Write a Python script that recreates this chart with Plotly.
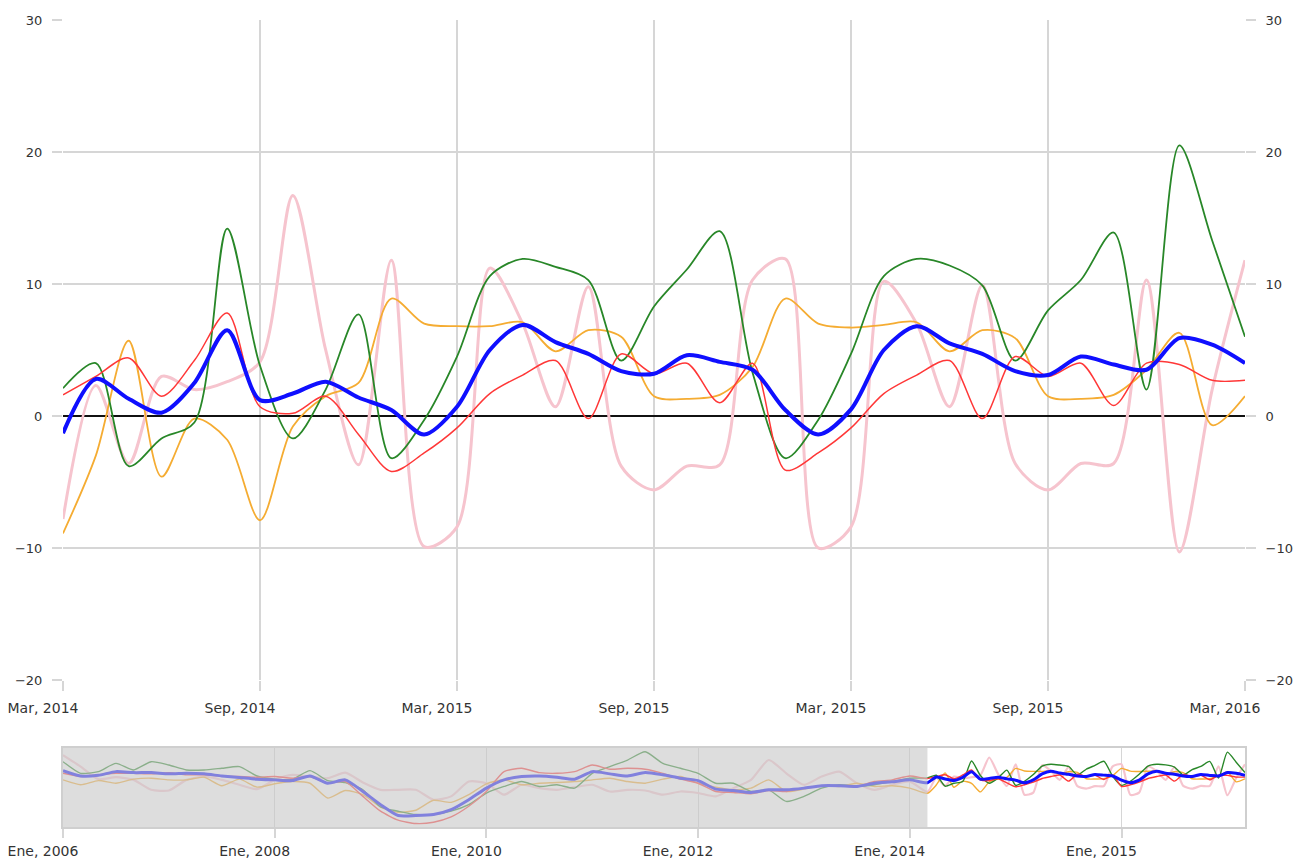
import plotly.graph_objects as go

# ---------------- main chart data (monthly points) ----------------
month_idx = list(range(37))
main_tick_vals = [0, 6, 12, 18, 24, 30, 36]
main_tick_text = ["Mar, 2014", "Sep, 2014", "Mar, 2015", "Sep, 2015",
                  "Mar, 2015", "Sep, 2015", "Mar, 2016"]

blue = [-1.3, 2.8, 1.3, 0.25, 2.5, 6.5, 1.2, 1.7, 2.6, 1.4,
        0.45, -1.4, 0.7, 5.0, 6.9, 5.6, 4.7, 3.4, 3.2, 4.6,
        4.1, 3.5, 0.45, -1.4, 0.5, 5.0, 6.8, 5.5, 4.7, 3.4,
        3.1, 4.5, 3.9, 3.5, 5.9, 5.4, 4.0]
red = [1.6, 3.0, 4.4, 1.5, 4.2, 7.8, 0.7, 0.2, 1.5, -1.4,
       -4.2, -2.8, -0.9, 1.7, 3.1, 4.2, -0.2, 4.7, 3.2, 4.0,
       1.0, 4.0, -4.1, -2.8, -0.9, 1.7, 3.1, 4.2, -0.2, 4.5,
       3.0, 4.0, 0.8, 4.0, 3.9, 2.7, 2.7]
green = [2.1, 4.0, -3.8, -1.7, -0.5, 14.2, 3.8, -1.7, 2.0, 7.7,
         -3.2, -0.3, 4.5, 10.6, 11.9, 11.3, 10.3, 4.2, 8.3, 11.1,
         14.0, 3.3, -3.2, -0.3, 4.7, 10.6, 11.9, 11.4, 9.9, 4.2,
         8.0, 10.3, 13.9, 2.0, 20.5, 13.3, 6.0]
orange = [-8.9, -3.0, 5.7, -4.6, -0.2, -1.8, -7.9, -0.8, 1.5, 2.5,
          8.9, 7.0, 6.8, 6.8, 7.1, 4.9, 6.5, 6.0, 1.5, 1.3,
          1.6, 3.7, 8.9, 7.0, 6.7, 6.9, 7.1, 4.9, 6.5, 5.9,
          1.5, 1.3, 1.6, 3.5, 6.3, -0.7, 1.5]
pink = [-7.8, 2.3, -3.6, 3.0, 2.0, 2.6, 4.1, 16.7, 5.0, -3.7,
        11.8, -9.9, -8.4, 11.2, 7.0, 0.7, 9.8, -3.8, -5.6, -3.8,
        -3.7, 10.3, 11.9, -10.0, -8.4, 10.2, 7.0, 0.7, 9.9, -3.6,
        -5.6, -3.6, -3.6, 10.3, -10.3, 2.0, 11.8]

# ---------------- navigator history (every 2 periods, 2006 -> 2014) ----------------
hist_idx = list(range(0, 97, 2))
blue_hist = [7.3, 3.5, 4.0, 6.6, 5.9, 5.9, 5.0, 5.4, 5.0, 3.5,
             2.4, 1.2, 0.7, 0.2, 3.5, -1.7, 0.7, -7.6, -17.0, -24.8,
             -24.8, -24.1, -20.6, -13.5, -5.2, 0.7, 3.1, 3.5, 2.6, 1.2,
             6.6, 5.0, 3.5, 5.9, 4.3, 1.9, 0.2, -5.9, -6.9, -8.3,
             -6.4, -6.4, -5.2, -3.5, -3.5, -4.0, -1.7, -0.7, 0.7]
red_hist = [5.4, 3.1, 4.3, 5.4, 5.4, 5.0, 5.9, 4.3, 4.3, 3.5,
            3.1, 2.6, 3.1, 1.9, 3.1, -1.7, -0.5, -11.1, -21.7, -28.1,
            -30.5, -29.6, -25.8, -18.2, -7.6, 6.6, 9.0, 5.9, 5.4, 6.6,
            11.3, 8.3, 9.0, 8.3, 5.4, 1.2, -1.7, -7.6, -8.3, -9.2,
            -6.9, -7.6, -5.2, -3.5, -3.5, -4.0, -0.5, 0.7, 3.5]
green_hist = [13.7, 5.4, 6.6, 12.5, 7.8, 13.7, 11.3, 7.8, 7.8, 9.0,
              10.2, 3.5, 1.2, 1.2, 7.3, 0.2, -1.2, -6.4, -18.7, -21.7,
              -24.1, -24.1, -21.7, -17.0, -8.7, -4.0, -0.5, -4.0, -2.8, -5.2,
              5.4, 10.2, 14.9, 20.8, 12.5, 9.0, 5.4, -1.7, -1.7, -7.6,
              -6.4, -14.7, -11.1, -5.2, -2.8, -4.0, -2.8, -0.5, 1.9]
orange_hist = [0.7, -2.8, 0.2, -1.7, 1.2, 1.9, 0.7, 0.7, 2.6, -3.5,
               1.2, -4.5, -2.1, -0.5, -1.7, -12.3, -6.9, -9.9, -18.7, -22.5,
               -21.0, -13.9, -15.4, -9.9, -2.1, 0.7, -2.8, -1.7, -1.2, -0.5,
               0.7, 1.9, -0.5, -1.7, 1.2, 3.1, -1.7, -4.5, -6.4, -5.2,
               0.7, -7.6, -5.9, -3.5, -4.0, -1.7, -4.0, -3.5, -5.2]
pink_hist = [18.4, 10.2, 1.2, 2.6, 0.7, -6.4, -6.9, 0.7, 3.1, 0.7,
             -2.8, -5.9, 0.7, 4.3, 3.1, 1.9, 5.9, -1.2, -6.4, -6.4,
             -6.4, -13.5, -11.1, -0.5, -1.7, -9.9, -2.8, -5.2, -6.4, -4.5,
             -2.8, -7.6, -6.4, -6.9, -9.9, -7.6, -8.7, -11.1, -5.2, 0.7,
             14.9, 5.4, -2.8, 3.1, 6.6, -1.7, -6.4, -2.8, -0.5]

nav_offset = 98  # navigator position where the detailed window starts
nav_tick_vals = [0, 24, 48, 72, 96, 120]
nav_tick_text = ["Ene, 2006", "Ene, 2008", "Ene, 2010", "Ene, 2012",
                 "Ene, 2014", "Ene, 2015"]

series = [
    ("pink", pink, pink_hist, "rgb(246,196,206)", 3.0, 2.2),
    ("orange", orange, orange_hist, "rgb(245,172,50)", 1.8, 1.4),
    ("green", green, green_hist, "rgb(40,135,40)", 1.8, 1.4),
    ("red", red, red_hist, "rgb(255,55,55)", 1.5, 1.4),
    ("blue", blue, blue_hist, "rgb(15,15,255)", 4.0, 3.0),
]

FONT = "DejaVu Sans"
TXT = "#333333"
GRID = "#d6d6d6"

fig = go.Figure()

nav_x = hist_idx + [nav_offset + i for i in month_idx]
for name, vals, hist, color, w, nw in series:
    fig.add_trace(go.Scatter(x=month_idx, y=vals, mode="lines", name=name,
                             line=dict(color=color, width=w, shape="spline", smoothing=0.85),
                             xaxis="x", yaxis="y", hoverinfo="skip"))
for name, vals, hist, color, w, nw in series:
    fig.add_trace(go.Scatter(x=nav_x, y=hist + vals, mode="lines", name=name + "_nav",
                             line=dict(color=color, width=nw, shape="spline", smoothing=0.6),
                             xaxis="x2", yaxis="y2", hoverinfo="skip"))
# invisible trace to activate the right-hand y axis
fig.add_trace(go.Scatter(x=month_idx, y=blue, mode="lines", line=dict(width=0),
                         opacity=0, xaxis="x", yaxis="y3", hoverinfo="skip"))

main_dom = [0.1822, 1.0]
nav_dom = [0.0, 0.0979]

fig.update_layout(
    width=1293, height=861,
    margin=dict(l=63, r=48, t=20, b=34),
    paper_bgcolor="white", plot_bgcolor="white",
    showlegend=False,
    font=dict(family=FONT, size=14, color=TXT),
    xaxis=dict(domain=[0, 1], range=[0, 36], anchor="y", automargin=False,
               tickmode="array", tickvals=main_tick_vals, ticktext=main_tick_text,
               showgrid=True, gridcolor=GRID, gridwidth=1.5,
               ticks="outside", ticklen=10, tickcolor=GRID, tickwidth=1.5,
               ticklabelshift=-20, ticklabelstandoff=5, ticklabeloverflow="allow",
               zeroline=False, showline=False),
    yaxis=dict(domain=main_dom, range=[-20, 30], dtick=10, anchor="x", automargin=False,
               showgrid=True, gridcolor=GRID, gridwidth=1.5,
               ticks="outside", ticklen=10, tickcolor=GRID, tickwidth=1.5,
               ticklabelstandoff=7, tickfont=dict(size=13),
               zeroline=True, zerolinecolor="#111111", zerolinewidth=1.6,
               showline=False),
    yaxis3=dict(domain=main_dom, range=[-20, 30], dtick=10, anchor="x", automargin=False,
                overlaying="y", side="right", tickfont=dict(size=13),
                showgrid=False, zeroline=False, ticklabelstandoff=7,
                ticklabeloverflow="allow",
                ticks="outside", ticklen=10, tickcolor=GRID, tickwidth=1.5),
    xaxis2=dict(domain=[0, 1], range=[0, 134], anchor="y2", automargin=False,
                tickmode="array", tickvals=nav_tick_vals, ticktext=nav_tick_text,
                showgrid=True, gridcolor=GRID, gridwidth=1,
                ticks="outside", ticklen=9, tickcolor=GRID, tickwidth=1.5,
                ticklabelshift=-20, ticklabelstandoff=1, ticklabeloverflow="allow",
                zeroline=False,
                showline=True, linecolor="#cfcfcf", linewidth=2, mirror=True),
    yaxis2=dict(domain=nav_dom, range=[-33, 23.5], anchor="x2", automargin=False,
                showticklabels=False, showgrid=False, zeroline=False, ticks="",
                showline=True, linecolor="#cfcfcf", linewidth=2, mirror=True),
    shapes=[dict(type="rect", xref="x2", yref="y2 domain",
                 x0=0, x1=nav_offset, y0=0, y1=1,
                 fillcolor="rgba(200,200,200,0.62)", line=dict(width=0),
                 layer="above")],
)

fig.write_html("out.html",
               config={"displayModeBar": False},
               post_script="document.body.style.margin='0';"
                           "document.body.style.overflow='hidden';")
